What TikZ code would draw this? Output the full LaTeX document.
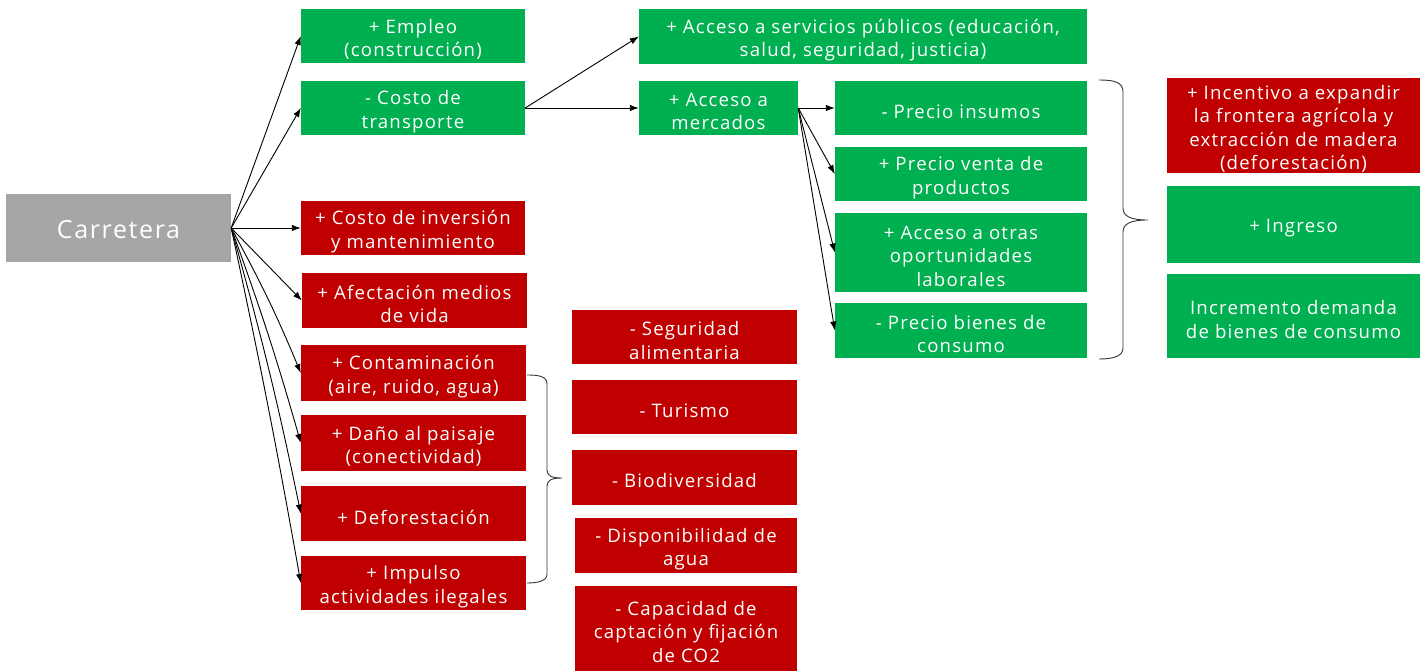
\documentclass[tikz,border=0pt]{standalone}
\usepackage{fontspec}
\setmainfont{Open Sans}[LetterSpace=6.5]
\usetikzlibrary{arrows.meta}
\definecolor{gr}{HTML}{00B050}
\definecolor{rd}{HTML}{C00000}
\definecolor{gy}{HTML}{A6A6A6}
\newcommand\bx[4]{\node[#1] (#2) at (#3) {};
  \node[txt] (#2-t) at ([yshift=-3.5pt]#2.center) {#4};}
\begin{document}
\begin{tikzpicture}[x=1pt,y=-1pt,
 txt/.style={inner sep=0pt, align=center, text=white, font=\fontsize{18.6}{23.5}\selectfont},
 box/.style={inner sep=0pt, draw=none},
 gbox/.style={box, fill=gr},
 rbox/.style={box, fill=rd},
 arr/.style={-{Latex[length=9pt,width=6.5pt]}, line width=0.9pt, black},
 brace/.style={line width=0.9pt, black!80}]
\useasboundingbox (0,0) rectangle (1424,671);
\node[box, fill=gy, minimum width=225, minimum height=68] (car) at (118.5,228) {};
\node[txt, font=\fontsize{25}{30}\selectfont] (car-t) at ([yshift=-2pt]car.center) {Carretera};
% column 2
\bx{gbox, minimum width=224, minimum height=54}{emp}{413,36}{+ Empleo\\(construcción)}
\bx{gbox, minimum width=224, minimum height=54}{cost}{413,108}{- Costo de\\transporte}
\bx{rbox, minimum width=224, minimum height=54}{inv}{413,228}{+ Costo de inversión\\y mantenimiento}
\bx{rbox, minimum width=225, minimum height=55}{afe}{414.5,300.5}{+ Afectación medios\\de vida}
\bx{rbox, minimum width=225, minimum height=56}{cont}{413.5,373}{+ Contaminación\\(aire, ruido, agua)}
\bx{rbox, minimum width=225, minimum height=56}{dano}{413.5,443}{+ Daño al paisaje\\(conectividad)}
\bx{rbox, minimum width=225, minimum height=55}{defo}{413.5,513.5}{+ Deforestación}
\bx{rbox, minimum width=225, minimum height=54}{imp}{413.5,583}{+ Impulso\\actividades ilegales}
% column 3 (red)
\bx{rbox, minimum width=225, minimum height=54}{seg}{684.5,337}{- Seguridad\\alimentaria}
\bx{rbox, minimum width=225, minimum height=54}{tur}{684.5,407}{- Turismo}
\bx{rbox, minimum width=225, minimum height=55}{bio}{684.5,477.5}{- Biodiversidad}
\bx{rbox, minimum width=222, minimum height=55}{disp}{686,545.5}{- Disponibilidad de\\agua}
\bx{rbox, minimum width=222, minimum height=85}{capt}{686,628.5}{- Capacidad de\\captación y fijación\\de CO2}
% column 3 (green)
\bx{gbox, minimum width=448, minimum height=55}{serv}{863,36.5}{+ Acceso a servicios públicos (educación,\\salud, seguridad, justicia)}
\bx{gbox, minimum width=159, minimum height=54}{merc}{718.5,108}{+ Acceso a\\mercados}
% column 4
\bx{gbox, minimum width=252, minimum height=54}{ins}{961,108}{- Precio insumos}
\bx{gbox, minimum width=252, minimum height=54}{venta}{961,174}{+ Precio venta de\\productos}
\bx{gbox, minimum width=252, minimum height=79}{otras}{961,252.5}{+ Acceso a otras\\oportunidades\\laborales}
\bx{gbox, minimum width=252, minimum height=55}{bien}{961,330.5}{- Precio bienes de\\consumo}
% column 5
\bx{rbox, minimum width=253, minimum height=95}{ince}{1293.5,125.5}{+ Incentivo a expandir\\la frontera agrícola y\\extracción de madera\\(deforestación)}
\bx{gbox, minimum width=253, minimum height=77}{ingr}{1293.5,224.5}{+ Ingreso}
\bx{gbox, minimum width=253, minimum height=84}{dema}{1293.5,316}{Incremento demanda\\de bienes de consumo}
% arrows
\draw[arr] (car.east) -- (emp.west);
\draw[arr] (car.east) -- (cost.west);
\draw[arr] (car.east) -- (inv.west);
\draw[arr] (car.east) -- (afe.west);
\draw[arr] (car.east) to[bend left=3] (cont.west);
\draw[arr] (car.east) to[bend left=2] (dano.west);
\draw[arr] (car.east) to[bend left=2] (defo.west);
\draw[arr] (car.east) to[bend left=1] (imp.west);
\draw[arr] (cost.east) -- (serv.west);
\draw[arr] (cost.east) -- (merc.west);
\draw[arr] (merc.east) -- (ins.west);
\draw[arr] (merc.east) -- (venta.west);
\draw[arr] (merc.east) -- (otras.west);
\draw[arr] (merc.east) -- (bien.west);
% braces
\draw[brace] (1099,80) .. controls (1114,80) and (1123,82) .. (1123,92) -- (1123,208) .. controls (1123,216) and (1130,220) .. (1148,220) .. controls (1130,220) and (1123,224) .. (1123,232) -- (1123,348) .. controls (1123,356) and (1114,359) .. (1099,359);
\draw[brace] (527,375) .. controls (538,375) and (547,376) .. (547,384) -- (547,470) .. controls (547,476) and (552,478) .. (562,478) .. controls (552,478) and (547,480) .. (547,486) -- (547,574) .. controls (547,581) and (538,583) .. (527,583);
\end{tikzpicture}
\end{document}
